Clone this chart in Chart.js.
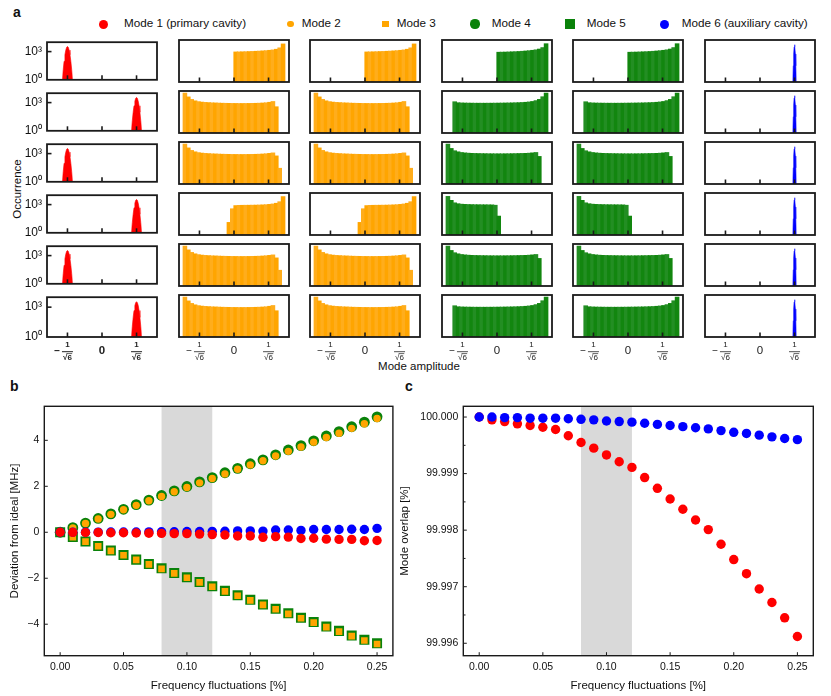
<!DOCTYPE html>
<html>
<head>
<meta charset="utf-8">
<title>Mode amplitude histograms and frequency fluctuation analysis</title>
<script src="https://cdn.jsdelivr.net/npm/chart.js@4.4.1/dist/chart.umd.min.js"></script>
<style>
  html, body { margin:0; padding:0; background:#fff; }
  body { position:relative; width:831px; height:696px; overflow:hidden;
         font-family:"Liberation Sans", Arial, Helvetica, sans-serif; color:#111; }
  canvas { position:absolute; }
  .t { position:absolute; white-space:nowrap; line-height:1; }
  .panel { font-weight:bold; font-size:14px; }
  .mk { position:absolute; }
</style>
</head>
<body>
<div class="t panel" style="left:13px;top:5px;">a</div>
<div class="t panel" style="left:10px;top:379px;">b</div>
<div class="t panel" style="left:405px;top:379px;">c</div>
<div id="occ" class="t" style="left:18px;top:188.5px;font-size:11.5px;transform:translate(-50%,-50%) rotate(-90deg);">Occurrence</div>
<div class="t" style="left:419px;top:361px;font-size:11.5px;transform:translateX(-50%);">Mode amplitude</div>
<script>
// ======================= DATA =======================
// ---- panel a: histogram bins (mode amplitude) ----
const binCenters = [-0.62,-0.58,-0.54,-0.50,-0.46,-0.42,-0.38,-0.34,-0.30,-0.26,-0.22,-0.18,-0.14,-0.10,-0.06,-0.02,
                     0.02, 0.06, 0.10, 0.14, 0.18, 0.22, 0.26, 0.30, 0.34, 0.38, 0.42, 0.46, 0.50, 0.54, 0.58, 0.62];
const ampTickValues = [-0.4082, 0, 0.4082];
const ampTickLabels = ['−1/√6', '0', '1/√6'];
const occTickValues = [1, 1000];
const occTickLabels = ['10⁰', '10³'];
const _ = null;
// orange (modes 2 and 3)
const histRise          = [_,_,_,_,_,_,_,_, _,_,_,_,_,_,_,_, 690,700,710,730,750,770,800,830, 870,920,990,1080,1250,1700,4000,_];
const histLeftPeakShort = [_,6000,2600,1500,1100,920,830,780, 740,710,690,670,650,640,630,620, 615,610,610,615,620,630,640,655, 680,720,800,950,300,_,_,_];
const histLeftPeakLong  = [_,6000,2600,1500,1100,920,830,780, 740,710,690,670,650,640,630,620, 615,610,610,615,620,630,640,655, 680,720,780,870,450,30,_,_];
const histStepRise      = [_,_,_,_,_,_,_,_, _,_,_,_,_,_,15,300, 600,630,640,645,650,655,665,680, 700,730,780,860,1000,1400,4300,_];
// green (modes 4 and 5)
const greenRise         = [_,_,_,_,_,_,_,_, _,_,_,_,_,_,_,_, 650,660,670,690,710,730,760,800, 850,910,990,1100,1300,1800,4200,_];
const greenRightPeak    = [_,_,_,900,720,690,675,665, 658,652,650,650,650,652,655,660, 665,672,680,690,700,715,735,760, 800,860,950,1150,1500,2700,6000,_];
const greenLeftPeak     = [_,6000,2300,1400,1100,950,870,820, 790,770,750,740,730,720,715,710, 710,710,715,720,730,740,755,770, 790,820,870,950,400,_,_,_];
const greenStepFall     = [_,4500,1900,1100,900,820,780,760, 740,730,720,715,710,705,700,650, 60,_,_,_,_,_,_,_, _,_,_,_,_,_,_,_];
const mode2Rows = [histRise, histLeftPeakShort, histLeftPeakLong, histStepRise, histLeftPeakLong, histLeftPeakShort];
const mode3Rows = [histRise, histLeftPeakShort, histLeftPeakLong, histStepRise, histLeftPeakLong, histLeftPeakShort];
const mode4Rows = [greenRise, greenRightPeak, greenLeftPeak, greenStepFall, greenLeftPeak, greenRightPeak];
const mode5Rows = [greenRise, greenRightPeak, greenLeftPeak, greenStepFall, greenLeftPeak, greenRightPeak];
// narrow peaks (modes 1 and 6)
const redPeakCenters  = [-0.4082, 0.4082, -0.4082, 0.4082, -0.4082, 0.4082];
const redPeakOffsets  = [-0.06,-0.05,-0.04,-0.03,-0.02,-0.01,0,0.01,0.02,0.03,0.04,0.05,0.06];
const redPeakCounts   = [1,12,93,457,1432,2818,3548,2818,1432,457,93,12,1];
const bluePeakCenter  = 0.4082;
const bluePeakOffsets = [-0.02,-0.015,-0.01,-0.005,0,0.005,0.01,0.015,0.02];
const bluePeakCounts  = [1,35,457,2140,3548,2140,457,35,1];
const legendLabels = ['Mode 1 (primary cavity)','Mode 2','Mode 3','Mode 4','Mode 5','Mode 6 (auxiliary cavity)'];

// ---- panels b and c ----
const fluct = [0,0.01,0.02,0.03,0.04,0.05,0.06,0.07,0.08,0.09,0.10,0.11,0.12,0.13,0.14,0.15,0.16,0.17,0.18,0.19,0.20,0.21,0.22,0.23,0.24,0.25];
const devMode1 = [0,-0.005,-0.01,-0.01,-0.02,-0.02,-0.03,-0.04,-0.05,-0.06,-0.06,-0.08,-0.1,-0.12,-0.16,-0.16,-0.22,-0.19,-0.21,-0.27,-0.26,-0.3,-0.31,-0.31,-0.37,-0.36];
const devMode2 = [0,0.19,0.38,0.58,0.78,0.98,1.17,1.37,1.56,1.76,1.95,2.15,2.34,2.54,2.74,2.93,3.11,3.32,3.52,3.71,3.92,4.12,4.31,4.52,4.72,4.95];
const devMode3 = [0,-0.21,-0.41,-0.61,-0.81,-1.0,-1.2,-1.4,-1.59,-1.79,-1.98,-2.18,-2.37,-2.57,-2.76,-2.96,-3.16,-3.35,-3.55,-3.74,-3.93,-4.13,-4.32,-4.52,-4.71,-4.86];
const devMode4 = [0,0.2,0.4,0.6,0.8,1.0,1.2,1.4,1.6,1.8,1.99,2.19,2.38,2.59,2.78,2.98,3.15,3.37,3.58,3.77,3.98,4.19,4.38,4.59,4.79,5.02];
const devMode5 = [0,-0.2,-0.4,-0.6,-0.79,-0.99,-1.19,-1.38,-1.57,-1.77,-1.96,-2.16,-2.35,-2.55,-2.74,-2.94,-3.14,-3.33,-3.52,-3.72,-3.9,-4.1,-4.29,-4.49,-4.68,-4.83];
const devMode6 = [0,0,0.005,0.005,0.01,0.01,0.01,0.015,0.02,0.02,0.03,0.03,0.04,0.045,0.06,0.06,0.05,0.1,0.1,0.08,0.12,0.12,0.12,0.13,0.12,0.17];
const overlapMode1 = [100.0,99.99995,99.99992,99.99988,99.99985,99.99982,99.99978,99.99967,99.99955,99.99945,99.99933,99.99921,99.99911,99.99893,99.99874,99.99855,99.99837,99.99818,99.99801,99.99775,99.99748,99.99723,99.99696,99.99672,99.99645,99.99612];
const overlapMode6 = [100.0,100.0,99.99999,99.99999,99.99998,99.99998,99.99998,99.99997,99.99996,99.99995,99.99993,99.99992,99.99991,99.99989,99.99987,99.99985,99.99983,99.99981,99.99979,99.99976,99.99973,99.99971,99.99968,99.99965,99.99962,99.9996];
const bandRange = [0.08, 0.12];
const fluctTickValues = [0, 0.05, 0.10, 0.15, 0.20, 0.25];
const fluctTickLabels = ['0.00','0.05','0.10','0.15','0.20','0.25'];
const devTickValues = [-4, -2, 0, 2, 4];
const devTickLabels = ['−4','−2','0','2','4'];
const overlapTickValues = [99.996, 99.997, 99.998, 99.999, 100.0];
const overlapTickLabels = ['99.996','99.997','99.998','99.999','100.000'];
const overlapMinorTicks = [99.9965, 99.9975, 99.9985, 99.9995];

// ======================= STYLE / LAYOUT =======================
const FONT = '"Liberation Sans", Arial, Helvetica, sans-serif';
Chart.defaults.font.family = FONT;
Chart.defaults.color = '#111';
const RED = '#ff0000', BLUE = '#0000ff', ORANGE = '#ffa500', GREEN = '#0a820a';
const orangeShades = ['#ffa500', '#ffad1c'];
const greenShades  = ['#12860f', '#238e23'];
const GRID_LEFT = [47, 179, 310, 442, 573, 705];
const GRID_TOP  = [40, 91, 142, 193, 244, 295];
const BOX_W = 110, BOX_H = 42, PAD = 10;

function seg(ctx, x1, y1, x2, y2) { ctx.beginPath(); ctx.moveTo(x1, y1); ctx.lineTo(x2, y2); ctx.stroke(); }

function drawAmpLabel(ctx, x, yBottom, label, bold) {
  const w = bold ? 'bold ' : '';
  ctx.fillStyle = '#222'; ctx.strokeStyle = '#222';
  ctx.textAlign = 'center'; ctx.textBaseline = 'middle';
  if (label.indexOf('/') < 0) {
    ctx.font = w + '11.5px ' + FONT;
    ctx.fillText(label, x, yBottom + 13);
    return;
  }
  const neg = label[0] === '−';
  const body = neg ? label.slice(1) : label;
  const parts = body.split('/');
  const barY = yBottom + 13.7;
  ctx.font = w + '8px ' + FONT;
  ctx.fillText(parts[0], x, barY - 6.8);
  ctx.fillText(parts[1], x, barY + 6.2);
  const tw = ctx.measureText(parts[1]).width, rw = ctx.measureText('√').width;
  ctx.lineWidth = 0.7;
  seg(ctx, x - tw / 2 + rw * 0.8, barY + 1.9, x + tw / 2 + 0.3, barY + 1.9);
  ctx.lineWidth = bold ? 1.0 : 0.8;
  seg(ctx, x - 5.5, barY, x + 5.5, barY);
  if (neg) { ctx.font = w + '10px ' + FONT; ctx.fillText('−', x - 10.4, barY - 0.5); }
}

const histFramePlugin = {
  id: 'histFrame',
  afterDatasetsDraw(chart, args, o) {
    const { ctx, chartArea: a, scales } = chart;
    ctx.save();
    ctx.strokeStyle = '#1a1a1a';
    ctx.lineWidth = 1.6;
    ampTickValues.forEach(v => { const px = scales.x.getPixelForValue(v); seg(ctx, px, a.bottom, px, a.bottom - 4.5); });
    if (o.yTicks) occTickValues.forEach(v => {
      const py = scales.y.getPixelForValue(v);
      if (py < a.bottom - 2) seg(ctx, a.left, py, a.left + 4.5, py);
    });
    ctx.lineWidth = 1.8;
    ctx.strokeRect(a.left, a.top, a.right - a.left, a.bottom - a.top);
    if (o.labels) ampTickValues.forEach((v, i) => drawAmpLabel(ctx, scales.x.getPixelForValue(v), a.bottom + 1, ampTickLabels[i], o.bold));
    ctx.restore();
  }
};

function peakDataset(center, offsets, counts, color) {
  return {
    type: 'line',
    data: offsets.map((d, i) => ({ x: center + d, y: counts[i] })),
    borderColor: color, backgroundColor: color, borderWidth: 0.6,
    pointRadius: 0, fill: 'start', tension: 0
  };
}

const modeRows = [null, mode2Rows, mode3Rows, mode4Rows, mode5Rows, null];

for (let r = 0; r < 6; r++) {
  for (let c = 0; c < 6; c++) {
    const isBottom = r === 5, YW = c === 0 ? 36 : 0;
    const PB = isBottom ? 40 : PAD;
    const cw = BOX_W + 2 * PAD + YW, ch = BOX_H + PAD + PB;
    const cv = document.createElement('canvas');
    cv.width = cw; cv.height = ch;
    cv.style.width = cw + 'px'; cv.style.height = ch + 'px';
    cv.style.left = (GRID_LEFT[c] - PAD - YW) + 'px';
    cv.style.top = (GRID_TOP[r] - PAD) + 'px';
    document.body.appendChild(cv);

    const datasets = [];
    if (c === 0) datasets.push(peakDataset(redPeakCenters[r], redPeakOffsets, redPeakCounts, RED));
    else if (c === 5) datasets.push(peakDataset(bluePeakCenter, bluePeakOffsets, bluePeakCounts, BLUE));
    else {
      const counts = modeRows[c][r];
      const shades = c <= 2 ? orangeShades : greenShades;
      datasets.push({
        type: 'bar',
        data: binCenters.map((x, i) => ({ x: x, y: counts[i] })),
        backgroundColor: binCenters.map((x, i) => shades[i % 2]),
        borderWidth: 0, barPercentage: 1, categoryPercentage: 1, grouped: false,
        inflateAmount: 0.6
      });
    }

    new Chart(cv, {
      type: 'bar',
      data: { datasets },
      options: {
        responsive: false, animation: false, devicePixelRatio: 1, events: [],
        layout: { padding: { left: PAD, right: PAD, top: PAD, bottom: PB } },
        plugins: { legend: { display: false }, tooltip: { enabled: false },
                   histFrame: { yTicks: c === 0, labels: isBottom, bold: c === 0 } },
        scales: {
          x: { type: 'linear', min: -0.65, max: 0.65, display: false, offset: false },
          y: { type: 'logarithmic', min: 1, max: 10000, display: c === 0,
               grid: { display: false, drawTicks: false }, border: { display: false },
               afterBuildTicks: s => { s.ticks = occTickValues.map(v => ({ value: v })); },
               afterFit: s => { s.width = YW; },
               ticks: { padding: 5, autoSkip: false, color: '#111', font: { size: 12 },
                        callback: (v, i) => occTickLabels[i] } }
        }
      },
      plugins: [histFramePlugin]
    });
  }
}

// ---- legend for panel a (HTML text) ----
const legendMarkers = [
  { cx: 103,   d: 9,   color: RED,    round: true,  tx: 124 },
  { cx: 290.7, d: 6.5, color: ORANGE, round: true,  tx: 301.7 },
  { cx: 385.7, d: 6.7, color: ORANGE, round: false, tx: 396.7 },
  { cx: 475,   d: 9.3, color: GREEN,  round: true,  tx: 491.7 },
  { cx: 570,   d: 9.7, color: GREEN,  round: false, tx: 586.7 },
  { cx: 664,   d: 9,   color: BLUE,   round: true,  tx: 681.7 }
];
legendLabels.forEach((txt, i) => {
  const m = legendMarkers[i];
  const mk = document.createElement('div');
  mk.className = 'mk';
  mk.style.cssText = `left:${m.cx - m.d / 2}px;top:${24 - m.d / 2}px;width:${m.d}px;height:${m.d}px;background:${m.color};border-radius:${m.round ? '50%' : '0'};`;
  document.body.appendChild(mk);
  const t = document.createElement('div');
  t.className = 't';
  t.style.cssText = `left:${m.tx}px;top:17.3px;font-size:11.7px;`;
  t.textContent = txt;
  document.body.appendChild(t);
});

// ======================= PANELS b, c =======================
const panelDeco = {
  id: 'panelDeco',
  beforeDatasetsDraw(chart, args, o) {
    const { ctx, chartArea: a, scales: { x } } = chart;
    const x0 = x.getPixelForValue(bandRange[0]), x1 = x.getPixelForValue(bandRange[1]);
    ctx.save(); ctx.fillStyle = '#d9d9d9'; ctx.fillRect(x0, a.top, x1 - x0, a.bottom - a.top); ctx.restore();
  },
  afterDatasetsDraw(chart, args, o) {
    const { ctx, chartArea: a, scales: { x, y } } = chart;
    ctx.save();
    ctx.strokeStyle = '#1a1a1a'; ctx.lineWidth = 1;
    x.ticks.forEach(t => { const px = x.getPixelForValue(t.value); seg(ctx, px, a.bottom, px, a.bottom - 3.5); });
    y.ticks.forEach(t => { const py = y.getPixelForValue(t.value); seg(ctx, a.left, py, a.left + 3.5, py); });
    (o.minor || []).forEach(v => { const py = y.getPixelForValue(v); seg(ctx, a.left, py, a.left + 2.2, py); });
    ctx.lineWidth = 1.4;
    ctx.strokeRect(a.left, a.top, a.right - a.left, a.bottom - a.top);
    ctx.restore();
  }
};

function pts(xs, ys) { return xs.map((x, i) => ({ x: x, y: ys[i] })); }
function sc(label, ys, style, radius, color) {
  return { label, data: pts(fluct, ys), pointStyle: style, pointRadius: radius, pointHoverRadius: radius,
           backgroundColor: color, borderWidth: 0, pointBorderWidth: 0, showLine: false };
}
function xScale() {
  return {
    type: 'linear', min: -0.0125, max: 0.2625,
    grid: { display: false, drawTicks: false }, border: { display: false },
    afterBuildTicks: s => { s.ticks = fluctTickValues.map(v => ({ value: v })); },
    afterFit: s => { s.height = 39.3; },
    ticks: { padding: 5, autoSkip: false, maxRotation: 0, font: { size: 10.5 }, color: '#111',
             callback: (v, i) => fluctTickLabels[i] },
    title: { display: true, text: 'Frequency fluctuations [%]', font: { size: 11.5 }, color: '#111',
             padding: { top: 0, bottom: 2 } }
  };
}
function makeCanvas(left, top, w, h) {
  const cv = document.createElement('canvas');
  cv.width = w; cv.height = h;
  cv.style.cssText = `left:${left}px;top:${top}px;width:${w}px;height:${h}px;`;
  document.body.appendChild(cv);
  return cv;
}

new Chart(makeCanvas(0, 395, 400, 300), {
  type: 'scatter',
  data: { datasets: [
    sc('Mode 1 (primary cavity)', devMode1, 'circle', 4.7, RED),
    sc('Mode 6 (auxiliary cavity)', devMode6, 'circle', 4.7, BLUE),
    sc('Mode 3', devMode3, 'rect', 4.7, ORANGE),
    sc('Mode 5', devMode5, 'rect', 7.1, GREEN),
    sc('Mode 2', devMode2, 'circle', 3.7, ORANGE),
    sc('Mode 4', devMode4, 'circle', 5.4, GREEN)
  ] },
  options: {
    responsive: false, animation: false, devicePixelRatio: 1, events: [],
    layout: { padding: { left: 0, right: 5, top: 7.3, bottom: 0 } },
    plugins: { legend: { display: false }, tooltip: { enabled: false }, panelDeco: {} },
    scales: {
      x: xScale(),
      y: { type: 'linear', min: -5.37, max: 5.48,
           grid: { display: false, drawTicks: false }, border: { display: false },
           afterBuildTicks: s => { s.ticks = devTickValues.map(v => ({ value: v })); },
           afterFit: s => { s.width = 44.3; },
           ticks: { padding: 5, autoSkip: false, font: { size: 10.5 }, color: '#111',
                    callback: (v, i) => devTickLabels[i] },
           title: { display: true, text: 'Deviation from ideal [MHz]', font: { size: 11.5 }, color: '#111',
                    padding: { top: 8, bottom: 0 } } }
    }
  },
  plugins: [panelDeco]
});

new Chart(makeCanvas(398, 395, 433, 300), {
  type: 'scatter',
  data: { datasets: [
    sc('Mode 6 (auxiliary cavity)', overlapMode6, 'circle', 4.7, BLUE),
    sc('Mode 1 (primary cavity)', overlapMode1, 'circle', 4.7, RED)
  ] },
  options: {
    responsive: false, animation: false, devicePixelRatio: 1, events: [],
    layout: { padding: { left: 0, right: 17.7, top: 7.3, bottom: 0 } },
    plugins: { legend: { display: false }, tooltip: { enabled: false }, panelDeco: { minor: overlapMinorTicks } },
    scales: {
      x: xScale(),
      y: { type: 'linear', min: 99.99578, max: 100.00019,
           grid: { display: false, drawTicks: false }, border: { display: false },
           afterBuildTicks: s => { s.ticks = overlapTickValues.map(v => ({ value: v })); },
           afterFit: s => { s.width = 65.3; },
           ticks: { padding: 5, autoSkip: false, font: { size: 10.5 }, color: '#111',
                    callback: (v, i) => overlapTickLabels[i] },
           title: { display: true, text: 'Mode overlap [%]', font: { size: 11.5 }, color: '#111',
                    padding: { top: 0, bottom: 0 } } }
    }
  },
  plugins: [panelDeco]
});
</script>
</body>
</html>
